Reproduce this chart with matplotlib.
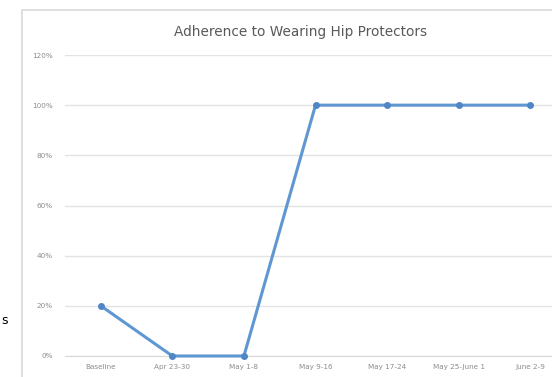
from matplotlib import pyplot as plt
from matplotlib.patches import Rectangle
from matplotlib.ticker import FuncFormatter

weeks = ['Baseline', 'Apr 23-30', 'May 1-8', 'May 9-16', 'May 17-24',
         'May 25-June 1', 'June 2-9']
adherence = [0.20, 0.0, 0.0, 1.0, 1.0, 1.0, 1.0]
y_ticks = [0, 0.2, 0.4, 0.6, 0.8, 1.0, 1.2]

W, H = 552, 377
fig = plt.figure(figsize=(W / 100, H / 100), dpi=100)

# chart frame
fig.patches.append(Rectangle((22 / W, -0.05), 1.0, 1 - 10 / H + 0.05,
                             transform=fig.transFigure, facecolor='white',
                             edgecolor='#d9d9d9', linewidth=1.2, zorder=-5))

ax = fig.add_axes([65 / W, 1 - 356 / H, 501 / W, 301 / H])
ax.set_zorder(2)
ax.set_facecolor('none')

x = range(len(weeks))
ax.plot(x, adherence, color='#5f97d2', linewidth=2.2, marker='o',
        markersize=4, markerfacecolor='#4f86c6', markeredgecolor='#4f86c6',
        zorder=3, clip_on=False)

ax.set_xlim(-0.5, len(weeks) - 0.5)
ax.set_ylim(0, 1.2)
ax.set_yticks(y_ticks)
ax.yaxis.set_major_formatter(FuncFormatter(lambda v, p: f'{v:.0%}'))
ax.set_xticks(list(x))
ax.set_xticklabels(weeks)
ax.grid(axis='y', color='#e3e3e3', linewidth=1)
ax.set_axisbelow(True)
for s in ax.spines.values():
    s.set_visible(False)
ax.spines['bottom'].set_visible(True)
ax.spines['bottom'].set_color('#d9d9d9')
ax.tick_params(length=0, labelsize=5.2, colors='#8c8c8c', pad=6)
ax.tick_params(axis='y', pad=9)

fig.text(301 / W, 1 - 32 / H, 'Adherence to Wearing Hip Protectors',
         ha='center', va='center', fontsize=9.8, color='#595959')
fig.text(1 / W, 1 - 320 / H, 's', ha='left', va='center', fontsize=9,
         color='black')

fig.savefig('out.png', dpi=100)
